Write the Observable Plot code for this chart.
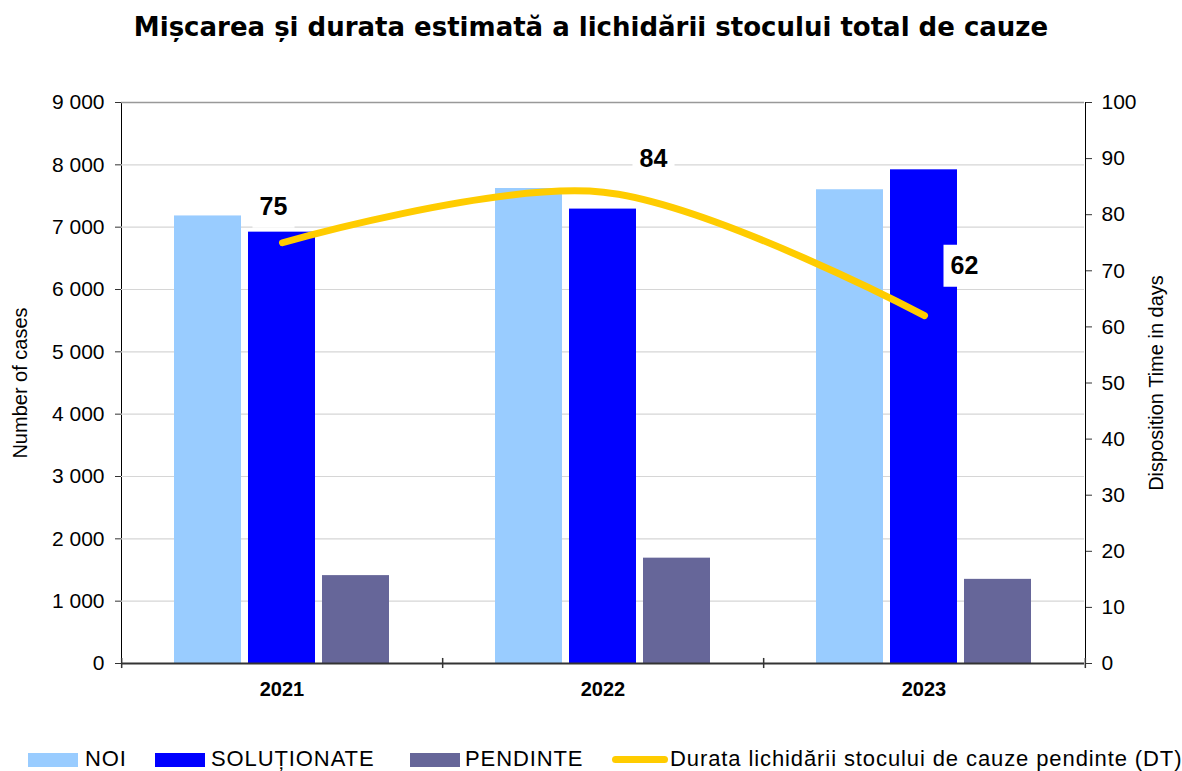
<!DOCTYPE html>
<html><head><meta charset="utf-8">
<script src="https://cdn.jsdelivr.net/npm/d3@7"></script>
<script src="https://cdn.jsdelivr.net/npm/@observablehq/plot@0.6"></script>
<style>
body{margin:0;background:#fff;font-family:Arial,"Liberation Sans",sans-serif;}
#wrap{position:relative;width:1182px;height:771px;overflow:hidden;background:#fff;}
#title{position:absolute;top:11px;left:0;width:1182px;text-align:center;font-family:"DejaVu Sans",sans-serif;font-weight:bold;font-size:26px;line-height:32px;color:#000;}
.layer{position:absolute;left:0;top:0;}
.lg{position:absolute;top:746px;height:26px;font-size:22px;letter-spacing:0.9px;line-height:26px;color:#000;white-space:nowrap;}
.sw{position:absolute;top:753px;width:50px;height:14px;}
</style></head>
<body><div id="wrap">
<div id="title">Mișcarea și durata estimată a lichidării stocului total de cauze</div>
<div id="a" class="layer"></div>
<div id="b" class="layer"></div>
<div id="legend"></div>
</div>
<script>
const years = ["2021", "2022", "2023"];
const series = ["NOI", "SOLUȚIONATE", "PENDINTE"];
const noi = [7180, 7620, 7600];
const solutionate = [6920, 7290, 7920];
const pendinte = [1410, 1690, 1350];
const dt = [75, 84, 62];
const leftTicks = [0, 1000, 2000, 3000, 4000, 5000, 6000, 7000, 8000, 9000];
const rightTicks = [0, 10, 20, 30, 40, 50, 60, 70, 80, 90, 100];
const lineName = "Durata lichidării stocului de cauze pendinte (DT)";
const colors = ["#99CCFF", "#0000FF", "#666699"];
const lineColor = "#FFCC00";

const W = 1182, H = 720, mL = 120, mR = 97, mT = 102, mB = 57;
const step = (W - mL - mR) / years.length;

const rows = years.flatMap((y, i) => [
  {year: y, s: series[0], v: noi[i]},
  {year: y, s: series[1], v: solutionate[i]},
  {year: y, s: series[2], v: pendinte[i]}
]);
const dtRows = years.map((y, i) => ({year: y, dt: dt[i]}));
const fmt = d => d3.format(",")(d).replace(/,/g, " ");

function stripArrows(svg) {
  d3.select(svg).selectAll("text").each(function() {
    const s = this.textContent;
    if (s.includes("→") || s.includes("↑")) this.textContent = s.replace(/\s*[→↑]\s*/g, "");
  });
}

const A = Plot.plot({
  width: W, height: H, marginLeft: mL, marginRight: mR, marginTop: mT, marginBottom: mB,
  style: {fontFamily: "Arial, 'Liberation Sans', sans-serif", fontSize: "21px", color: "#000", background: "none"},
  fx: {domain: years, paddingInner: 0, paddingOuter: 0, label: null, tickSize: 0, tickPadding: 18, axis: "bottom"},
  x: {domain: series, paddingInner: 0.093, paddingOuter: 0.69, axis: null},
  y: {domain: [0, 9000], ticks: leftTicks, tickFormat: fmt, tickSize: 6, tickPadding: 11,
      label: "Number of cases", labelAnchor: "center", labelOffset: 109, line: true},
  color: {domain: series, range: colors},
  marks: [
    Plot.ruleY(leftTicks.filter(d => d > 0 && d < 9000), {stroke: "#d6d6d6", strokeWidth: 1.2}),
    Plot.ruleY([9000], {stroke: "#999", strokeWidth: 1.5}),
    Plot.barY(rows, {fx: "year", x: "s", y: "v", fill: "s"}),
    Plot.ruleY([0], {stroke: "#333", strokeWidth: 2})
  ]
});
stripArrows(A);
d3.select(A).selectAll("text").filter(function() { return years.includes(this.textContent); })
  .attr("font-weight", "bold").attr("font-size", "20px");
d3.select(A).selectAll("text").filter(function() { return this.textContent === "Number of cases"; })
  .attr("font-size", "20px");
d3.select(A).selectAll("[aria-label^='y-axis'] line, [aria-label^='y-axis'] path").attr("stroke", "#333");
document.getElementById("a").appendChild(A);

function label(i, dx, dy) {
  const d = dtRows.filter((_, j) => j === i);
  return [
    Plot.dot(d, {x: "year", y: "dt", dx, dy, symbol: "square", r: 23.7, fill: "white", stroke: "none"}),
    Plot.text(d, {x: "year", y: "dt", dx, dy, text: r => String(r.dt), fontWeight: "bold", fontSize: 25, fill: "#000"})
  ];
}

const B = Plot.plot({
  width: W, height: H, marginLeft: mL, marginRight: mR, marginTop: mT, marginBottom: mB,
  style: {fontFamily: "Arial, 'Liberation Sans', sans-serif", fontSize: "21px", color: "#000", background: "none"},
  x: {type: "point", domain: years, padding: 0.5, axis: null},
  y: {domain: [0, 100], ticks: rightTicks, axis: "right", tickSize: 6, tickPadding: 10,
      label: "Disposition Time in days", labelAnchor: "center", labelOffset: 77, line: true},
  marks: [
    Plot.ruleX(years, {x: d => d, dx: -step / 2, y1: -0.9, y2: 0.9, stroke: "#333", strokeWidth: 1.5}),
    Plot.ruleX(years.slice(-1), {x: d => d, dx: step / 2, y1: -0.9, y2: 0.9, stroke: "#333", strokeWidth: 1.5}),
    Plot.line(dtRows, {x: "year", y: "dt", stroke: lineColor, strokeWidth: 7, curve: "catmull-rom", strokeLinecap: "round", strokeLinejoin: "round"}),
    ...label(0, -9, -36),
    ...label(1, 50, -33),
    ...label(2, 40, -50)
  ]
});
stripArrows(B);
d3.select(B).selectAll("text").filter(function() { return this.textContent === "Disposition Time in days"; })
  .attr("font-size", "20px");
d3.select(B).selectAll("[aria-label^='y-axis'] line, [aria-label^='y-axis'] path").attr("stroke", "#333");
document.getElementById("b").appendChild(B);

// legend
const lg = document.getElementById("legend");
const items = [
  {name: series[0], color: colors[0], sx: 28, tx: 85, type: "bar"},
  {name: series[1], color: colors[1], sx: 155, tx: 211, type: "bar"},
  {name: series[2], color: colors[2], sx: 410, tx: 465, type: "bar"},
  {name: lineName, color: lineColor, sx: 612, tx: 670, type: "line"}
];
for (const it of items) {
  const sw = document.createElement("div");
  sw.className = "sw";
  sw.style.left = it.sx + "px";
  if (it.type === "bar") { sw.style.background = it.color; }
  else { sw.style.top = "756px"; sw.style.height = "7px"; sw.style.width = "56px"; sw.style.borderRadius = "4px"; sw.style.background = it.color; }
  lg.appendChild(sw);
  const t = document.createElement("div");
  t.className = "lg";
  t.style.left = it.tx + "px";
  t.textContent = it.name;
  lg.appendChild(t);
}
</script>
</body></html>
